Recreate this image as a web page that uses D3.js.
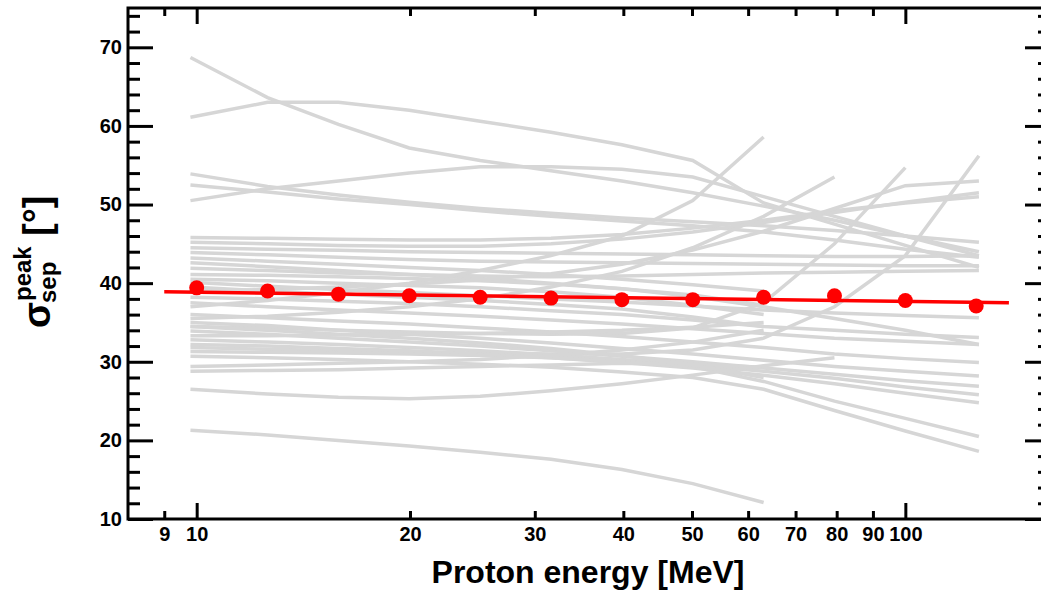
<!DOCTYPE html>
<html><head><meta charset="utf-8">
<script src="https://cdn.jsdelivr.net/npm/d3@7"></script>
<style>
body{margin:0;background:#fff}
svg text{font-family:"Liberation Sans",Arial,Helvetica,sans-serif;font-weight:bold;fill:#000}
</style>
</head><body>
<svg id="chart" width="1041" height="590"></svg>
<script>
// ---- data ----
const meanEnergies = [10, 12.59, 15.85, 19.95, 25.12, 31.62, 39.81, 50.12, 63.10, 79.43, 100, 125.89];
const meanValues   = [39.4, 39.0, 38.6, 38.4, 38.2, 38.1, 37.9, 37.9, 38.2, 38.4, 37.8, 37.1];
const fitEnergies  = [9, 140];
const fitValues    = [38.9, 37.5];
const greyEnergies = [9.8, 12.59, 15.85, 19.95, 25.12, 31.62, 39.81, 50.12, 63.10, 79.43, 100, 127];
const greyLines = [
  [68.7, 63.6, 60.2, 57.2, 55.6, 54.3, 53.0, 51.5, 49.8, 48.0, 46.0, 44.0],
  [61.1, 63.0, 63.0, 62.0, 60.6, 59.2, 57.6, 55.6, 50.2, 47.5, 44.8, 42.0],
  [53.9, 52.3, 51.2, 50.3, 49.5, 48.9, 48.3, 47.8, 47.3, 46.7, 46.0, 45.2],
  [52.5, 51.6, 50.7, 50.0, 49.2, 48.5, 47.9, 47.3, 46.5, 45.5, 44.3, 43.3],
  [50.5, 52.0, 53.0, 54.0, 54.8, 54.8, 54.5, 53.5, 51.0, 48.5, 46.0, 43.5],
  [45.8, 45.7, 45.6, 45.5, 45.5, 45.7, 46.2, 47.0, 48.0, 49.2, 50.2, 51.0],
  [45.2, 45.0, 44.8, 44.7, 44.7, 45.0, 45.6, 46.5, 47.7, 49.0, 50.3, 51.5],
  [44.5, 44.3, 44.2, 44.0, 43.9, 43.8, 43.7, 43.6, 43.5, 43.4, 43.4, 43.5],
  [43.9, 43.6, 43.3, 43.0, 42.8, 42.7, 42.6, 42.5, 42.4, 42.3, 42.2, 42.2],
  [43.2, 42.8, 42.4, 42.0, 41.6, 41.1, 40.5, 39.8, 39.0, null, null, null],
  [42.6, 42.1, 41.6, 41.1, 40.6, 40.0, 39.3, 38.3, 37.0, 35.5, 34.0, 32.2],
  [41.9, 41.6, 41.3, 41.1, 40.9, 40.8, 40.9, 41.1, 41.3, 41.4, 41.5, 41.6],
  [41.1, 41.0, 40.8, 40.6, 40.3, 39.9, 39.3, 38.5, 37.2, null, null, null],
  [40.5, 40.3, 40.0, 39.7, 39.4, 38.9, 38.2, 37.2, 36.0, null, null, null],
  [37.0, 37.8, 38.8, 40.0, 41.6, 43.5, 46.0, 50.5, 58.6, null, null, null],
  [35.5, 35.8, 36.3, 37.0, 38.0, 39.5, 41.5, 44.5, 48.5, 53.5, null, null],
  [34.5, 34.3, 34.0, 33.8, 33.6, 33.5, 33.6, 34.3, 37.5, 45.0, 54.7, null],
  [31.8, 31.6, 31.4, 31.2, 31.1, 31.0, 31.0, 31.5, 33.0, 37.0, 43.5, 56.2],
  [39.0, 39.2, 39.5, 39.9, 40.4, 41.2, 42.4, 44.2, 46.6, 49.5, 52.4, 53.0],
  [40.1, 39.6, 39.2, 38.8, 38.4, 38.0, 37.6, 37.1, 36.6, 36.2, 35.9, 35.6],
  [38.2, 38.0, 37.7, 37.4, 37.0, 36.5, 36.0, 35.3, 34.5, 34.0, 33.5, 33.1],
  [37.5, 37.0, 36.6, 36.2, 35.8, 35.3, 34.8, 34.2, 33.6, 33.0, 32.6, 32.2],
  [36.0, 35.6, 35.2, 34.8, 34.3, 33.8, 33.2, 32.5, 31.8, 31.0, 30.4, 29.9],
  [35.0, 34.6, 34.0, 33.5, 33.0, 32.4, 31.7, 31.0, 30.2, 29.4, 28.8, 28.2],
  [33.9, 33.5, 33.0, 32.5, 32.0, 31.4, 30.7, 30.0, 29.2, 28.4, 27.6, 26.9],
  [32.8, 32.5, 32.2, 31.8, 31.4, 30.9, 30.3, 29.6, 28.8, 27.9, 26.8, 25.8],
  [32.2, 32.0, 31.7, 31.4, 31.0, 30.5, 29.9, 29.2, 28.3, 27.2, 26.0, 24.8],
  [31.3, 31.2, 31.1, 31.0, 30.8, 30.5, 30.0, 29.4, 27.5, 25.0, 22.8, 20.5],
  [30.7, 30.5, 30.3, 30.0, 29.7, 29.3, 28.7, 28.0, 26.5, 23.8, 21.2, 18.6],
  [29.4, 29.6, 29.8, 30.0, 30.3, 30.8, 31.5, 32.5, 34.0, null, null, null],
  [28.8, 28.9, 29.0, 29.2, 29.4, 29.6, 29.8, 29.7, 29.3, null, null, null],
  [26.5, 25.9, 25.5, 25.3, 25.6, 26.3, 27.2, 28.3, 29.5, 30.5, null, null],
  [21.3, 20.7, 20.0, 19.3, 18.5, 17.6, 16.3, 14.5, 12.1, null, null, null],
  [39.5, 39.0, 38.6, 38.2, 37.8, 37.3, 36.7, 35.7, 34.5, null, null, null],
  [34.5, 34.0, 33.5, 33.0, 32.4, 31.7, 30.8, 29.6, 28.0, null, null, null],
  [33.3, 33.3, 33.4, 33.5, 33.6, 33.8, 34.0, 34.4, 35.0, null, null, null]
];
const xMajorTicks = [10, 100];
const xMinorTicks = [9, 20, 30, 40, 50, 60, 70, 80, 90];
const xTickLabels = [9, 10, 20, 30, 40, 50, 60, 70, 80, 90, 100];
const yMajorTicks = [10, 20, 30, 40, 50, 60, 70];
const yMinorTicks = [12, 14, 16, 18, 22, 24, 26, 28, 32, 34, 36, 38, 42, 44, 46, 48, 52, 54, 56, 58, 62, 64, 66, 68, 72, 74];
const xTitle = "Proton energy [MeV]";

// ---- layout ----
const L = 128, R = 1050, T = 8, B = 519;
const svg = d3.select("#chart");
const x = d3.scaleLog().domain([8, 160]).range([L, R]);
const y = d3.scaleLinear().domain([10, 75]).range([B, T]);

// grey lines
const line = d3.line()
  .defined(d => d[1] !== null)
  .x(d => x(d[0])).y(d => y(d[1]));
svg.append("g").selectAll("path").data(greyLines).join("path")
  .attr("d", vals => line(vals.map((v, i) => [greyEnergies[i], v])))
  .attr("fill", "none").attr("stroke", "#d6d6d6").attr("stroke-width", 3.5);

// fit line
svg.append("path")
  .attr("d", line(fitEnergies.map((e, i) => [e, fitValues[i]])))
  .attr("fill", "none").attr("stroke", "#ff0000").attr("stroke-width", 3.5);

// mean points
svg.append("g").selectAll("circle").data(meanEnergies).join("circle")
  .attr("cx", d => x(d)).attr("cy", (d, i) => y(meanValues[i]))
  .attr("r", 7.5).attr("fill", "#ff0000");

// axes
function styleAxis(g) {
  g.selectAll("line").attr("stroke", "#000").attr("stroke-width", 3);
  g.select(".domain").remove();
  g.selectAll("text").attr("font-size", 20).attr("fill", "#000");
}
const fmt = d3.format("d");
// bottom
svg.append("g").attr("transform", `translate(0,${B})`)
  .call(d3.axisBottom(x).tickValues(xTickLabels).tickSize(0).tickPadding(8).tickFormat(fmt)).call(styleAxis);
svg.append("g").attr("transform", `translate(0,${B})`)
  .call(d3.axisBottom(x).tickValues(xMajorTicks).tickSize(-16).tickFormat("")).call(styleAxis);
svg.append("g").attr("transform", `translate(0,${B})`)
  .call(d3.axisBottom(x).tickValues(xMinorTicks).tickSize(-8).tickFormat("")).call(styleAxis);
// top
svg.append("g").attr("transform", `translate(0,${T})`)
  .call(d3.axisTop(x).tickValues(xMajorTicks).tickSize(-16).tickFormat("")).call(styleAxis);
svg.append("g").attr("transform", `translate(0,${T})`)
  .call(d3.axisTop(x).tickValues(xMinorTicks).tickSize(-8).tickFormat("")).call(styleAxis);
// left
svg.append("g").attr("transform", `translate(${L},0)`)
  .call(d3.axisLeft(y).tickValues(yMajorTicks).tickSize(-25).tickPadding(6).tickFormat(fmt)).call(styleAxis);
svg.append("g").attr("transform", `translate(${L},0)`)
  .call(d3.axisLeft(y).tickValues(yMinorTicks).tickSize(-12).tickFormat("")).call(styleAxis);
// right
svg.append("g").attr("transform", `translate(${R},0)`)
  .call(d3.axisRight(y).tickValues(yMajorTicks).tickSize(-25).tickFormat("")).call(styleAxis);
svg.append("g").attr("transform", `translate(${R},0)`)
  .call(d3.axisRight(y).tickValues(yMinorTicks).tickSize(-12).tickFormat("")).call(styleAxis);

// frame
svg.append("path")
  .attr("d", `M${L},${T}H${R}V${B}H${L}Z`)
  .attr("fill", "none").attr("stroke", "#000").attr("stroke-width", 3);

// titles
svg.append("text").attr("x", 588).attr("y", 583).attr("text-anchor", "middle")
  .attr("font-size", 32).text(xTitle);
svg.append("text").attr("transform", "translate(50,328) rotate(-90)").attr("font-size", 38).text("σ");
svg.append("text").attr("transform", "translate(31,301) rotate(-90)").attr("font-size", 24).text("peak");
svg.append("text").attr("transform", "translate(56,303) rotate(-90)").attr("font-size", 24).text("sep");
svg.append("text").attr("transform", "translate(50,236) rotate(-90)").attr("font-size", 38).text("[°]");
</script>
</body></html>
